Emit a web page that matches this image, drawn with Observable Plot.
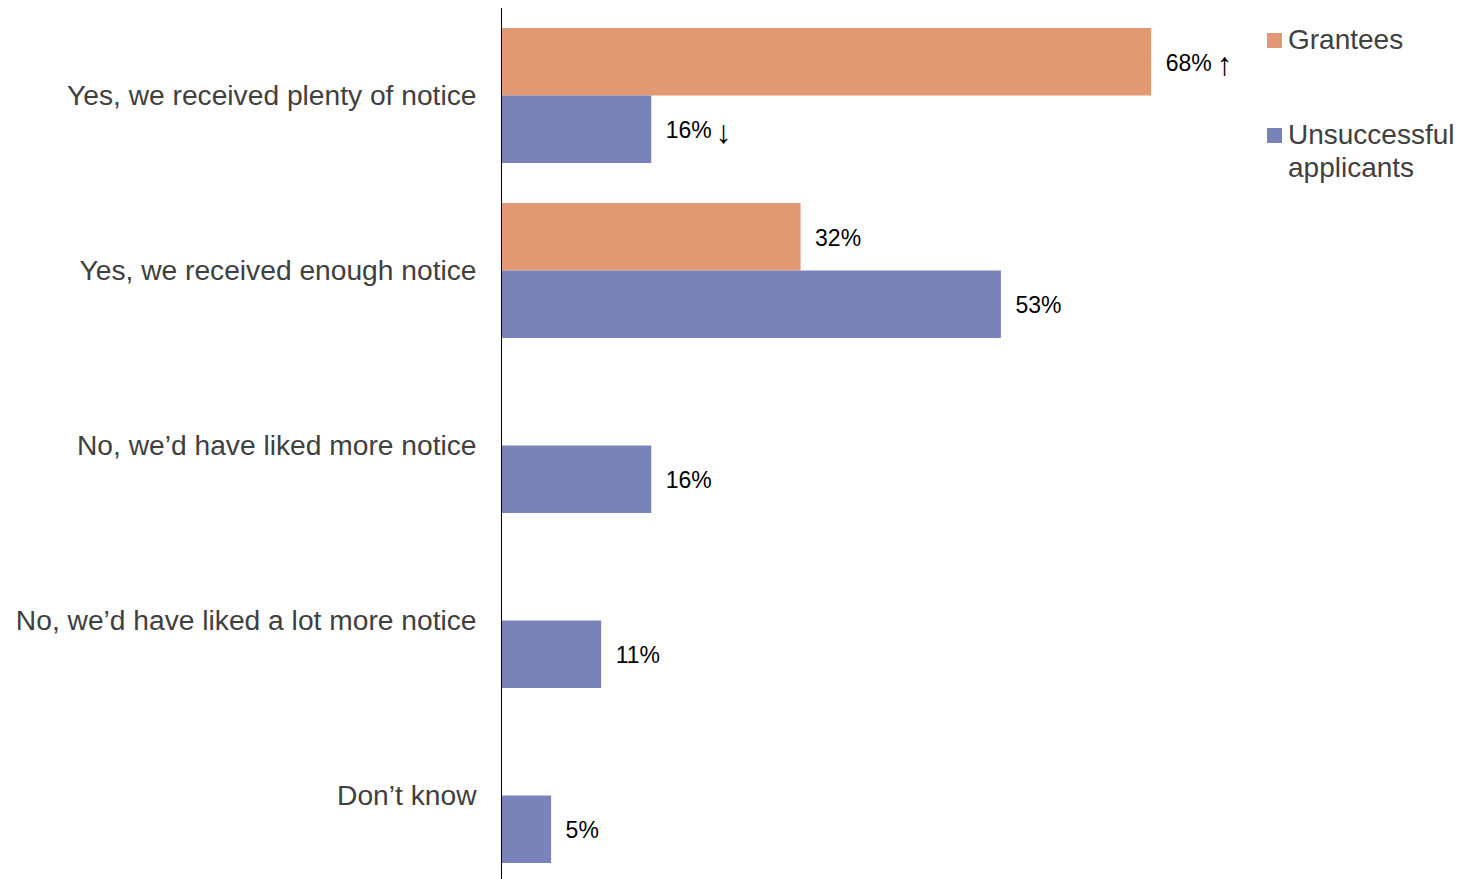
<!DOCTYPE html>
<html>
<head>
<meta charset="utf-8">
<script src="https://cdn.jsdelivr.net/npm/d3@7"></script>
<script src="https://cdn.jsdelivr.net/npm/@observablehq/plot@0.6"></script>
<style>
  html, body { margin: 0; padding: 0; background: #fff; }
  #wrap { position: relative; width: 1479px; height: 879px; font-family: "Liberation Sans", Arial, sans-serif; }
  #wrap svg { display: block; }
  #legend { position: absolute; left: 1267px; top: 23px; color: #404040; font-size: 28px; line-height: 33px; }
  .item { display: flex; align-items: flex-start; margin-bottom: 62px; }
  .sw { width: 15px; height: 15px; margin-top: 10px; margin-right: 6px; flex: none; }
</style>
</head>
<body>
<div id="wrap"></div>
<script>
const categories = [
  "Yes, we received plenty of notice",
  "Yes, we received enough notice",
  "No, we\u2019d have liked more notice",
  "No, we\u2019d have liked a lot more notice",
  "Don\u2019t know"
];
const seriesNames = ["Grantees", "Unsuccessful applicants"];
const seriesColors = ["#E39874", "#7982B9"];
const granteeValues = [68.8, 31.7, null, null, null];
const granteeLabels = ["68%", "32%", "", "", ""];
const granteeArrows = ["\u2191", "", "", "", ""];
const unsuccessfulValues = [15.9, 52.9, 15.9, 10.6, 5.3];
const unsuccessfulLabels = ["16%", "53%", "16%", "11%", "5%"];
const unsuccessfulArrows = ["\u2193", "", "", "", ""];

const grantees = categories
  .map((c, i) => ({category: c, value: granteeValues[i], label: granteeLabels[i], arrow: granteeArrows[i]}))
  .filter(d => d.value != null);
const unsuccessful = categories
  .map((c, i) => ({category: c, value: unsuccessfulValues[i], label: unsuccessfulLabels[i], arrow: unsuccessfulArrows[i]}));

const half = 33.75;

const chart = Plot.plot({
  width: 1479,
  height: 879,
  marginLeft: 501,
  marginRight: 33,
  marginTop: 8,
  marginBottom: 0,
  style: {fontFamily: "'Liberation Sans', Arial, sans-serif", background: "#fff"},
  x: {domain: [0, 100], axis: null},
  y: {domain: categories, paddingInner: 0.2286, paddingOuter: 0.1029, align: 0.556, round: false, label: null},
  marks: [
    Plot.barX(grantees, {x: "value", y: "category", fill: seriesColors[0], insetBottom: half * 2}),
    Plot.barX(unsuccessful, {x: "value", y: "category", fill: seriesColors[1], insetTop: half * 2}),
    Plot.text(grantees, {x: "value", y: "category", text: "label", dy: -half + 1, dx: 14, textAnchor: "start", fontSize: 23, fill: "#000"}),
    Plot.text(unsuccessful, {x: "value", y: "category", text: "label", dy: half + 1, dx: 14, textAnchor: "start", fontSize: 23, fill: "#000"}),
    Plot.text(grantees, {x: "value", y: "category", text: "arrow", dy: -half + 2, dx: 73, textAnchor: "middle", fontSize: 32, fill: "#000"}),
    Plot.text(unsuccessful, {x: "value", y: "category", text: "arrow", dy: half + 3, dx: 72, textAnchor: "middle", fontSize: 32, fill: "#000"}),
    Plot.ruleX([0], {stroke: "#000", strokeWidth: 1}),
    Plot.axisY({tickSize: 0, tickPadding: 25, fontSize: 28.2, color: "#404040", label: null})
  ]
});

const wrap = document.getElementById("wrap");
wrap.appendChild(chart);

const legend = document.createElement("div");
legend.id = "legend";
seriesNames.forEach((name, i) => {
  const item = document.createElement("div");
  item.className = "item";
  const sw = document.createElement("div");
  sw.className = "sw";
  sw.style.background = seriesColors[i];
  const tx = document.createElement("div");
  tx.innerHTML = name === "Unsuccessful applicants" ? "Unsuccessful<br>applicants" : name;
  item.appendChild(sw);
  item.appendChild(tx);
  legend.appendChild(item);
});
wrap.appendChild(legend);
</script>
</body>
</html>
